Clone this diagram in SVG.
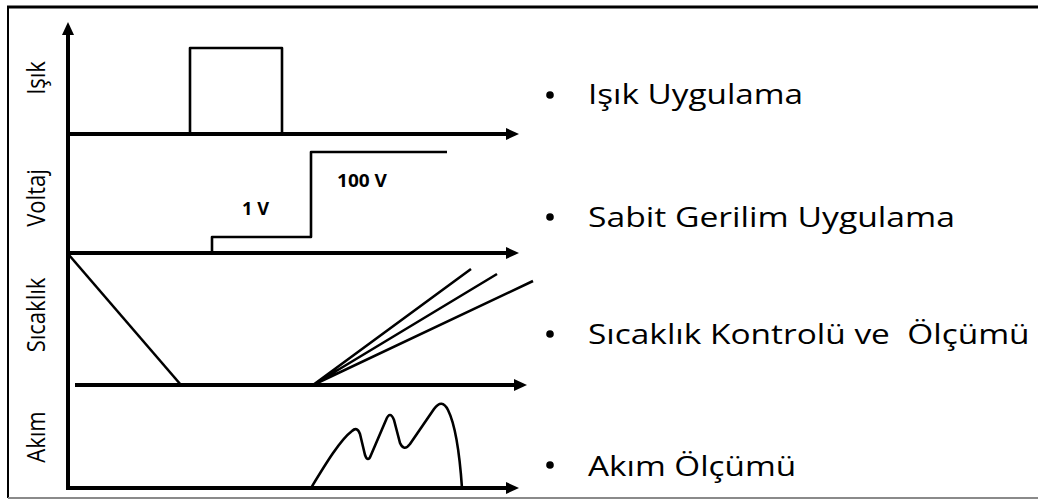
<svg xmlns="http://www.w3.org/2000/svg" width="1038" height="500" viewBox="0 0 1038 500">
<style>
.ax{stroke:#000;stroke-width:4;fill:none}
.ln{stroke:#000;stroke-width:2.6;fill:none;stroke-linejoin:round}
.lbl{font-family:"Open Sans","Noto Sans",sans-serif;font-size:22px;fill:#000;text-anchor:middle}
.item{font-family:"Open Sans","Noto Sans",sans-serif;font-size:27px;fill:#000;white-space:pre}
.val{font-family:"Open Sans","Noto Sans",sans-serif;font-size:17px;font-weight:bold;fill:#000}
</style>
<defs>
<marker id="ah" markerUnits="userSpaceOnUse" markerWidth="14" markerHeight="13" refX="3" refY="6" orient="auto">
<path d="M0,0 L13,6 L0,12 z" fill="#000"/>
</marker>
</defs>
<rect width="1038" height="500" fill="#fff"/>
<g id="frame">
<line x1="7" y1="7" x2="1038" y2="7" stroke="#000" stroke-width="3"/>
<line x1="8" y1="6" x2="8" y2="498" stroke="#000" stroke-width="2"/>
<line x1="8" y1="498" x2="1038" y2="498" stroke="#8a8a8a" stroke-width="2"/>
</g>
<g id="connectors">
<line class="ax" x1="68" y1="490" x2="68" y2="32" marker-end="url(#ah)"/>
<line class="ax" x1="68" y1="134" x2="509" y2="134" marker-end="url(#ah)"/>
<line class="ax" x1="68" y1="253" x2="509" y2="253" marker-end="url(#ah)"/>
<line class="ax" x1="75" y1="385" x2="517" y2="385" marker-end="url(#ah)"/>
<line class="ax" x1="66" y1="488" x2="509" y2="488" marker-end="url(#ah)"/>
</g>
<g id="light">
<text class="lbl" transform="translate(45,78) scale(1.12,1) rotate(-90)">Işık</text>
<path class="ln" d="M190,134 V48 H282 V134"/>
</g>
<g id="voltage">
<text class="lbl" transform="translate(45,198) scale(1.12,1) rotate(-90)">Voltaj</text>
<path class="ln" d="M212,253 V237 H311 V152 H447"/>
<text class="val" x="242" y="215" textLength="27" lengthAdjust="spacingAndGlyphs">1 V</text>
<text class="val" x="337" y="187" textLength="50" lengthAdjust="spacingAndGlyphs">100 V</text>
</g>
<g id="temperature">
<text class="lbl" transform="translate(45,315) scale(1.12,1) rotate(-90)">Sıcaklık</text>
<path class="ln" d="M69,255 L181,385"/>
<path class="ln" d="M313,385 L471,269 M313,385 L497,274 M313,385 L533,281"/>
</g>
<g id="current">
<text class="lbl" transform="translate(45,437) scale(1.12,1) rotate(-90)">Akım</text>
<path class="ln" d="M311,488 C325,465 340,440 352,431 Q357,426 360,434 L365,455 Q368,463 371,455 L386,420 Q390,410 394,420 L400,443 Q404,452 410,444 L434,409 Q442,398 448,410 Q458,430 462,488"/>
</g>
<g id="legend-light">
<circle cx="550" cy="95" r="3.8"/>
<text class="item" transform="translate(588,104) scale(1.15,1)" textLength="187" lengthAdjust="spacingAndGlyphs">Işık Uygulama</text>
</g>
<g id="legend-voltage">
<circle cx="550" cy="217" r="3.8"/>
<text class="item" transform="translate(588,227) scale(1.15,1)" textLength="319" lengthAdjust="spacingAndGlyphs">Sabit Gerilim Uygulama</text>
</g>
<g id="legend-temperature">
<circle cx="550" cy="334" r="3.8"/>
<text class="item" transform="translate(588,344) scale(1.15,1)" textLength="384" lengthAdjust="spacingAndGlyphs">Sıcaklık Kontrolü ve  Ölçümü</text>
</g>
<g id="legend-current">
<circle cx="550" cy="465" r="3.8"/>
<text class="item" transform="translate(588,476) scale(1.15,1)" textLength="181" lengthAdjust="spacingAndGlyphs">Akım Ölçümü</text>
</g>
</svg>
